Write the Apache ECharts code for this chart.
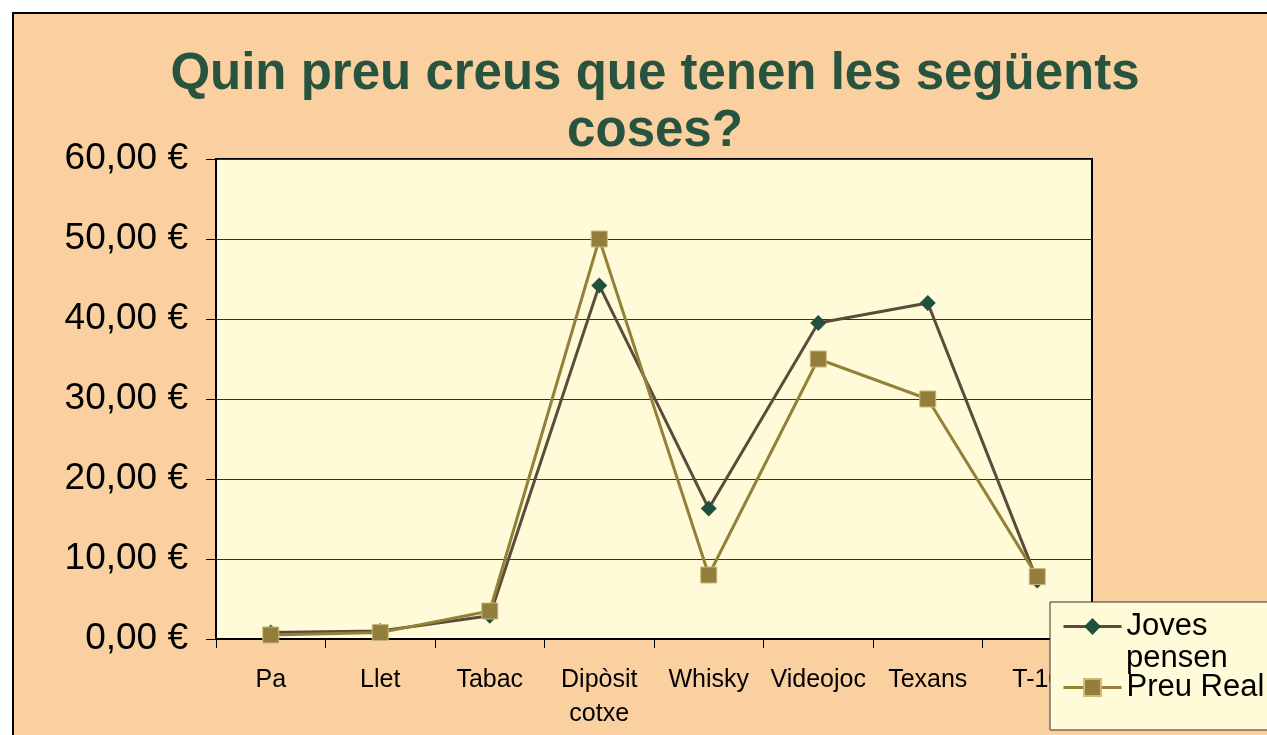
<!DOCTYPE html>
<html>
<head>
<meta charset="utf-8">
<script src="https://cdn.jsdelivr.net/npm/echarts@6/dist/echarts.min.js"></script>
<style>
  html, body { margin: 0; padding: 0; background: #fff; }
  #frame {
    position: absolute; left: 12px; top: 12px; width: 1267px; height: 735px;
    background: #fbd0a0; border: 2px solid #000; box-sizing: border-box;
  }
  #chart { position: absolute; left: 0; top: 0; width: 1267px; height: 735px; }
</style>
</head>
<body>
<div id="frame"></div>
<div id="chart"></div>
<script>
const categories = ['Pa', 'Llet', 'Tabac', 'Dipòsit cotxe', 'Whisky', 'Videojoc', 'Texans', 'T-10'];
const jovesPensen = [0.8, 1.0, 2.9, 44.2, 16.3, 39.5, 42.0, 7.3];
const preuReal = [0.5, 0.8, 3.5, 50.0, 8.0, 35.0, 30.0, 7.8];
const yTicks = [0, 10, 20, 30, 40, 50, 60];

const chart = echarts.init(document.getElementById('chart'));
const font = 'Liberation Sans, Arial, sans-serif';

chart.setOption({
  animation: false,
  backgroundColor: 'transparent',
  title: {
    text: 'Quin preu creus que tenen les següents\ncoses?',
    left: 650,
    top: 41,
    textAlign: 'center',
    textStyle: {
      fontFamily: font, fontSize: 51, fontWeight: 'bold',
      color: '#28543f', lineHeight: 57
    }
  },
  legend: {
    orient: 'vertical',
    left: 1050,
    top: 602,
    width: 230,
    padding: [9, 40, 27, 12],
    itemGap: 30,
    itemWidth: 58,
    itemHeight: 21,
    backgroundColor: '#fffad8',
    borderColor: '#333',
    borderWidth: 1,
    lineStyle: { width: 3 },
    formatter: n => n.replace(' pensen', ''),
    textStyle: { fontFamily: font, fontSize: 31, color: '#000' },
    data: ['Joves pensen', 'Preu Real']
  },
  graphic: [{
    type: 'text',
    left: 1126,
    top: 643,
    z: 200,
    style: { text: 'pensen', font: '31px ' + font, fill: '#000' }
  }],
  grid: {
    left: 216, top: 159, width: 876, height: 480,
    show: true, backgroundColor: '#fffad8',
    borderColor: '#000', borderWidth: 2
  },
  xAxis: {
    type: 'category',
    data: categories,
    boundaryGap: true,
    axisLine: { lineStyle: { color: '#000', width: 2 } },
    axisTick: { show: true, length: 9, lineStyle: { color: '#000' } },
    axisLabel: {
      fontFamily: font, fontSize: 25, color: '#000', margin: 24,
      interval: 0, lineHeight: 34,
      formatter: v => v.replace(' ', '\n')
    },
    splitLine: { show: false }
  },
  yAxis: {
    type: 'value',
    min: yTicks[0],
    max: yTicks[yTicks.length - 1],
    interval: 10,
    axisLine: { show: true, lineStyle: { color: '#000', width: 2 } },
    axisTick: { show: true, length: 10, lineStyle: { color: '#000' } },
    axisLabel: {
      fontFamily: font, fontSize: 37, color: '#000', margin: 28,
      formatter: v => v.toFixed(2).replace('.', ',') + ' €'
    },
    splitLine: { show: true, lineStyle: { color: '#3a3020', width: 1 } }
  },
  series: [
    {
      name: 'Joves pensen',
      type: 'line',
      data: jovesPensen,
      symbol: 'diamond',
      symbolSize: 16,
      lineStyle: { color: '#5a4b3a', width: 3 },
      itemStyle: { color: '#22503e' }
    },
    {
      name: 'Preu Real',
      type: 'line',
      data: preuReal,
      symbol: 'rect',
      symbolSize: 16,
      lineStyle: { color: '#95803a', width: 3 },
      itemStyle: { color: '#937d3a', borderColor: '#c9b97a', borderWidth: 1 }
    }
  ]
});
</script>
</body>
</html>
